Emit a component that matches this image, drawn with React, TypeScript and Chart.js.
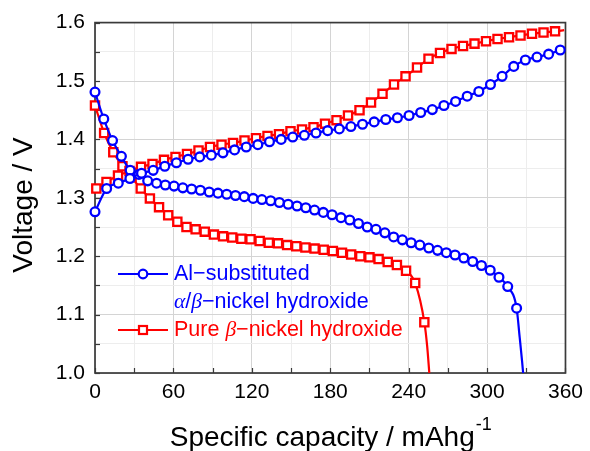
import React, { useEffect, useRef } from 'react';
import { Chart, registerables } from 'chart.js';

Chart.register(...registerables);

// ---- Data ----
const blueChargeCap = [0, 8.9, 17.8, 26.7, 35.6, 44.5, 53.4, 62.3, 71.2, 80.1, 89, 97.9, 106.8, 115.7, 124.6, 133.5, 142.4, 151.3, 160.2, 169.1, 178, 186.9, 195.8, 204.7, 213.6, 222.5, 231.4, 240.3, 249.2, 258.1, 267, 275.9, 284.8, 293.7, 302.6, 311.5, 320.4, 329.3, 338.2, 347.1, 356];
const blueChargeV = [1.276, 1.316, 1.325, 1.333, 1.342, 1.347, 1.354, 1.360, 1.366, 1.370, 1.373, 1.377, 1.382, 1.387, 1.391, 1.396, 1.400, 1.404, 1.407, 1.411, 1.415, 1.418, 1.422, 1.426, 1.430, 1.434, 1.437, 1.441, 1.446, 1.451, 1.458, 1.465, 1.474, 1.482, 1.494, 1.508, 1.525, 1.536, 1.541, 1.546, 1.553];

const blueDischargeCap = [0, 6.7, 13.4, 20.2, 26.9, 33.6, 40.3, 47.1, 53.8, 60.5, 67.2, 73.9, 80.6, 87.4, 94.1, 100.8, 107.5, 114.2, 121, 127.7, 134.4, 141.1, 147.8, 154.6, 161.3, 168, 174.7, 181.4, 188.2, 194.9, 201.6, 208.3, 215, 221.8, 228.5, 235.2, 241.9, 248.6, 255.4, 262.1, 268.8, 275.5, 282.2, 289, 295.7, 302.4, 309.1, 315.8, 322.6];
const blueDischargeV = [1.481, 1.435, 1.398, 1.371, 1.347, 1.340, 1.329, 1.325, 1.322, 1.320, 1.317, 1.315, 1.313, 1.310, 1.308, 1.306, 1.304, 1.302, 1.299, 1.297, 1.295, 1.292, 1.289, 1.286, 1.283, 1.279, 1.275, 1.271, 1.266, 1.262, 1.256, 1.250, 1.246, 1.240, 1.233, 1.228, 1.223, 1.219, 1.214, 1.210, 1.206, 1.202, 1.197, 1.191, 1.184, 1.176, 1.164, 1.148, 1.111];
const blueDischargeTailCap = [325, 326.8, 327.6];
const blueDischargeTailV = [1.06, 1.02, 1.0];

const redChargeCap = [1, 8.8, 17.6, 26.4, 35.2, 44, 52.8, 61.6, 70.4, 79.2, 88, 96.8, 105.6, 114.4, 123.2, 132, 140.8, 149.6, 158.4, 167.2, 176, 184.8, 193.6, 202.4, 211.2, 220, 228.8, 237.6, 246.4, 255.2, 264, 272.8, 281.6, 290.4, 299.2, 308, 316.8, 325.6, 334.4, 343.2, 352];
const redChargeV = [1.316, 1.327, 1.338, 1.346, 1.353, 1.358, 1.365, 1.370, 1.375, 1.381, 1.387, 1.391, 1.394, 1.398, 1.402, 1.406, 1.409, 1.414, 1.417, 1.421, 1.427, 1.433, 1.441, 1.450, 1.463, 1.478, 1.494, 1.508, 1.523, 1.538, 1.548, 1.555, 1.560, 1.564, 1.568, 1.572, 1.575, 1.578, 1.581, 1.583, 1.585];
const redChargeTailCap = [359];
const redChargeTailV = [1.587];

const redDischargeCap = [0, 7, 14, 21, 28, 35, 42, 49, 56, 63, 70, 77, 84, 91, 98, 105, 112, 119, 126, 133, 140, 147, 154, 161, 168, 175, 182, 189, 196, 203, 210, 217, 224, 231, 238, 245, 252];
const redDischargeV = [1.458, 1.411, 1.378, 1.354, 1.335, 1.316, 1.299, 1.284, 1.270, 1.259, 1.250, 1.246, 1.242, 1.237, 1.234, 1.232, 1.230, 1.229, 1.226, 1.223, 1.222, 1.219, 1.217, 1.215, 1.213, 1.211, 1.209, 1.206, 1.203, 1.200, 1.198, 1.195, 1.190, 1.185, 1.175, 1.154, 1.087];
const redDischargeTailCap = [254.2, 255.8];
const redDischargeTailV = [1.045, 1.0];

const xMajorTicks = ['0', '60', '120', '180', '240', '300', '360'];
const yMajorTicks = ['1.0', '1.1', '1.2', '1.3', '1.4', '1.5', '1.6'];

const BLUE = '#0000ff';
const RED = '#ff0000';
const SANS = '"Liberation Sans", Arial, Helvetica, sans-serif';
const SERIF = '"Liberation Serif", "Times New Roman", serif';

function zip(xs: number[], ys: number[]) {
  return xs.map((x, i) => ({ x, y: ys[i] }));
}

function makeDataset(label: string, color: string, style: string, radius: number,
  cap: number[], v: number[], tailCap: number[], tailV: number[]) {
  const data = zip(cap, v).concat(zip(tailCap, tailV));
  const n = cap.length;
  return {
    label,
    data,
    borderColor: color,
    backgroundColor: '#ffffff',
    borderWidth: 2.2,
    pointStyle: style,
    pointRadius: (c: any) => (c.dataIndex < n ? radius : 0),
    pointBorderWidth: 2.3,
    pointBorderColor: color,
    pointBackgroundColor: '#ffffff',
    cubicInterpolationMode: 'monotone',
    fill: false,
    clip: false,
  };
}

const frameTicksPlugin = {
  id: 'frameTicks',
  beforeDatasetsDraw(chart: any) {
    const { ctx, chartArea: a, scales } = chart;
    ctx.save();
    ctx.strokeStyle = '#3a3a3a';
    ctx.lineWidth = 1.2;
    scales.x.ticks.forEach((t: any) => {
      const px = Math.round(scales.x.getPixelForValue(t.value)) + 0.5;
      ctx.beginPath();
      ctx.moveTo(px, a.bottom);
      ctx.lineTo(px, a.bottom - 5);
      ctx.stroke();
    });
    scales.y.ticks.forEach((t: any) => {
      const py = Math.round(scales.y.getPixelForValue(t.value)) + 0.5;
      ctx.beginPath();
      ctx.moveTo(a.left, py);
      ctx.lineTo(a.left + 5, py);
      ctx.stroke();
    });
    ctx.lineWidth = 1.7;
    ctx.strokeRect(a.left, a.top, a.right - a.left, a.bottom - a.top);
    ctx.restore();
  },
};

function drawRuns(ctx: CanvasRenderingContext2D, runs: [string, string][], x: number, y: number, color: string) {
  ctx.fillStyle = color;
  ctx.textBaseline = 'middle';
  ctx.textAlign = 'left';
  let cx = x;
  for (const [t, f] of runs) {
    ctx.font = f;
    ctx.fillText(t, cx, y);
    cx += ctx.measureText(t).width;
  }
}

const legendTitlesPlugin = {
  id: 'legendTitles',
  afterDraw(chart: any) {
    const { ctx, chartArea: a } = chart;
    ctx.save();
    const sans = '21.5px ' + SANS;
    const greek = 'italic 21.5px ' + SERIF;
    const lx0 = a.left + 23;
    const lx1 = a.left + 73;
    const mx = (lx0 + lx1) / 2;
    const tx = a.left + 79;
    const y1 = a.bottom - 99;
    const y2 = a.bottom - 71;
    const y3 = a.bottom - 43;

    // entry 1 (blue)
    ctx.strokeStyle = BLUE;
    ctx.lineWidth = 2.2;
    ctx.beginPath();
    ctx.moveTo(lx0, y1);
    ctx.lineTo(lx1, y1);
    ctx.stroke();
    ctx.fillStyle = '#fff';
    ctx.beginPath();
    ctx.arc(mx, y1, 4.3, 0, Math.PI * 2);
    ctx.fill();
    ctx.stroke();
    drawRuns(ctx, [['Al\u2212substituted', sans]], tx, y1, BLUE);
    drawRuns(ctx, [['\u03b1', greek], ['/', sans], ['\u03b2', greek], ['\u2212nickel hydroxide', sans]], tx, y2, BLUE);

    // entry 2 (red)
    ctx.strokeStyle = RED;
    ctx.lineWidth = 2.2;
    ctx.beginPath();
    ctx.moveTo(lx0, y3);
    ctx.lineTo(lx1, y3);
    ctx.stroke();
    ctx.fillStyle = '#fff';
    ctx.fillRect(mx - 4, y3 - 4, 8, 8);
    ctx.strokeRect(mx - 4, y3 - 4, 8, 8);
    drawRuns(ctx, [['Pure ', sans], ['\u03b2', greek], ['\u2212nickel hydroxide', sans]], tx, y3, RED);

    // x axis title with superscript
    ctx.fillStyle = '#000';
    ctx.textBaseline = 'alphabetic';
    ctx.textAlign = 'left';
    const mainFont = '28px ' + SANS;
    const supFont = '18px ' + SANS;
    const main = 'Specific capacity / mAhg';
    const sup = '-1';
    ctx.font = mainFont;
    const wMain = ctx.measureText(main).width;
    ctx.font = supFont;
    const wSup = ctx.measureText(sup).width;
    const cx = (a.left + a.right) / 2;
    const start = cx - (wMain + wSup) / 2;
    ctx.font = mainFont;
    ctx.fillText(main, start, 446);
    ctx.font = supFont;
    ctx.fillText(sup, start + wMain + 1, 430);

    // y axis title
    ctx.save();
    ctx.translate(32, 205);
    ctx.rotate(-Math.PI / 2);
    ctx.font = '28px ' + SANS;
    ctx.textAlign = 'center';
    ctx.fillText('Voltage / V', 0, 0);
    ctx.restore();

    ctx.restore();
  },
};

export default function App() {
  const ref = useRef<HTMLCanvasElement | null>(null);

  useEffect(() => {
    if (!ref.current) return;
    const chart = new Chart(ref.current, {
      type: 'line',
      data: {
        datasets: [
          makeDataset('Al-substituted charge', BLUE, 'circle', 4.4, blueChargeCap, blueChargeV, [], []),
          makeDataset('Al-substituted discharge', BLUE, 'circle', 4.4, blueDischargeCap, blueDischargeV, blueDischargeTailCap, blueDischargeTailV),
          makeDataset('Pure charge', RED, 'rect', 5.8, redChargeCap, redChargeV, redChargeTailCap, redChargeTailV),
          makeDataset('Pure discharge', RED, 'rect', 5.8, redDischargeCap, redDischargeV, redDischargeTailCap, redDischargeTailV),
        ] as any,
      },
      options: {
        animation: false,
        responsive: false,
        layout: { padding: { left: 0, top: 22, right: 19, bottom: 0 } },
        plugins: { legend: { display: false }, tooltip: { enabled: false }, title: { display: false } },
        scales: {
          x: {
            type: 'linear',
            min: 0,
            max: 360,
            border: { display: false },
            afterFit: (s: any) => { s.height = 78; },
            ticks: {
              stepSize: 30,
              padding: 7,
              color: '#000',
              font: { size: 21, family: SANS },
              maxRotation: 0,
              autoSkip: false,
              callback: (v: any) => (xMajorTicks.includes(String(v)) ? String(v) : ''),
            },
            grid: {
              drawTicks: false,
              lineWidth: 1,
              color: (c: any) => (c.tick && xMajorTicks.includes(String(c.tick.value)) ? '#d4d4d4' : '#ededed'),
            },
          },
          y: {
            type: 'linear',
            min: 1.0,
            max: 1.6,
            border: { display: false },
            afterFit: (s: any) => { s.width = 95; },
            ticks: {
              stepSize: 0.05,
              padding: 10,
              color: '#000',
              font: { size: 21, family: SANS },
              autoSkip: false,
              callback: (v: any) => {
                const s = (Math.round(Number(v) * 100) / 100).toFixed(2);
                const one = Number(s).toFixed(1);
                return Math.abs(Number(s) - Number(one)) < 1e-6 && yMajorTicks.includes(one) ? one : '';
              },
            },
            grid: {
              drawTicks: false,
              lineWidth: 1,
              color: (c: any) => {
                if (!c.tick) return '#ededed';
                const r = Math.round(c.tick.value * 100);
                return r % 10 === 0 ? '#d4d4d4' : '#ededed';
              },
            },
          },
        },
      },
      plugins: [frameTicksPlugin, legendTitlesPlugin],
    } as any);
    return () => chart.destroy();
  }, []);

  return (
    <canvas
      ref={ref}
      width={590}
      height={451}
      style={{ position: 'fixed', left: 0, top: 0, display: 'block', background: '#fff' }}
    />
  );
}
